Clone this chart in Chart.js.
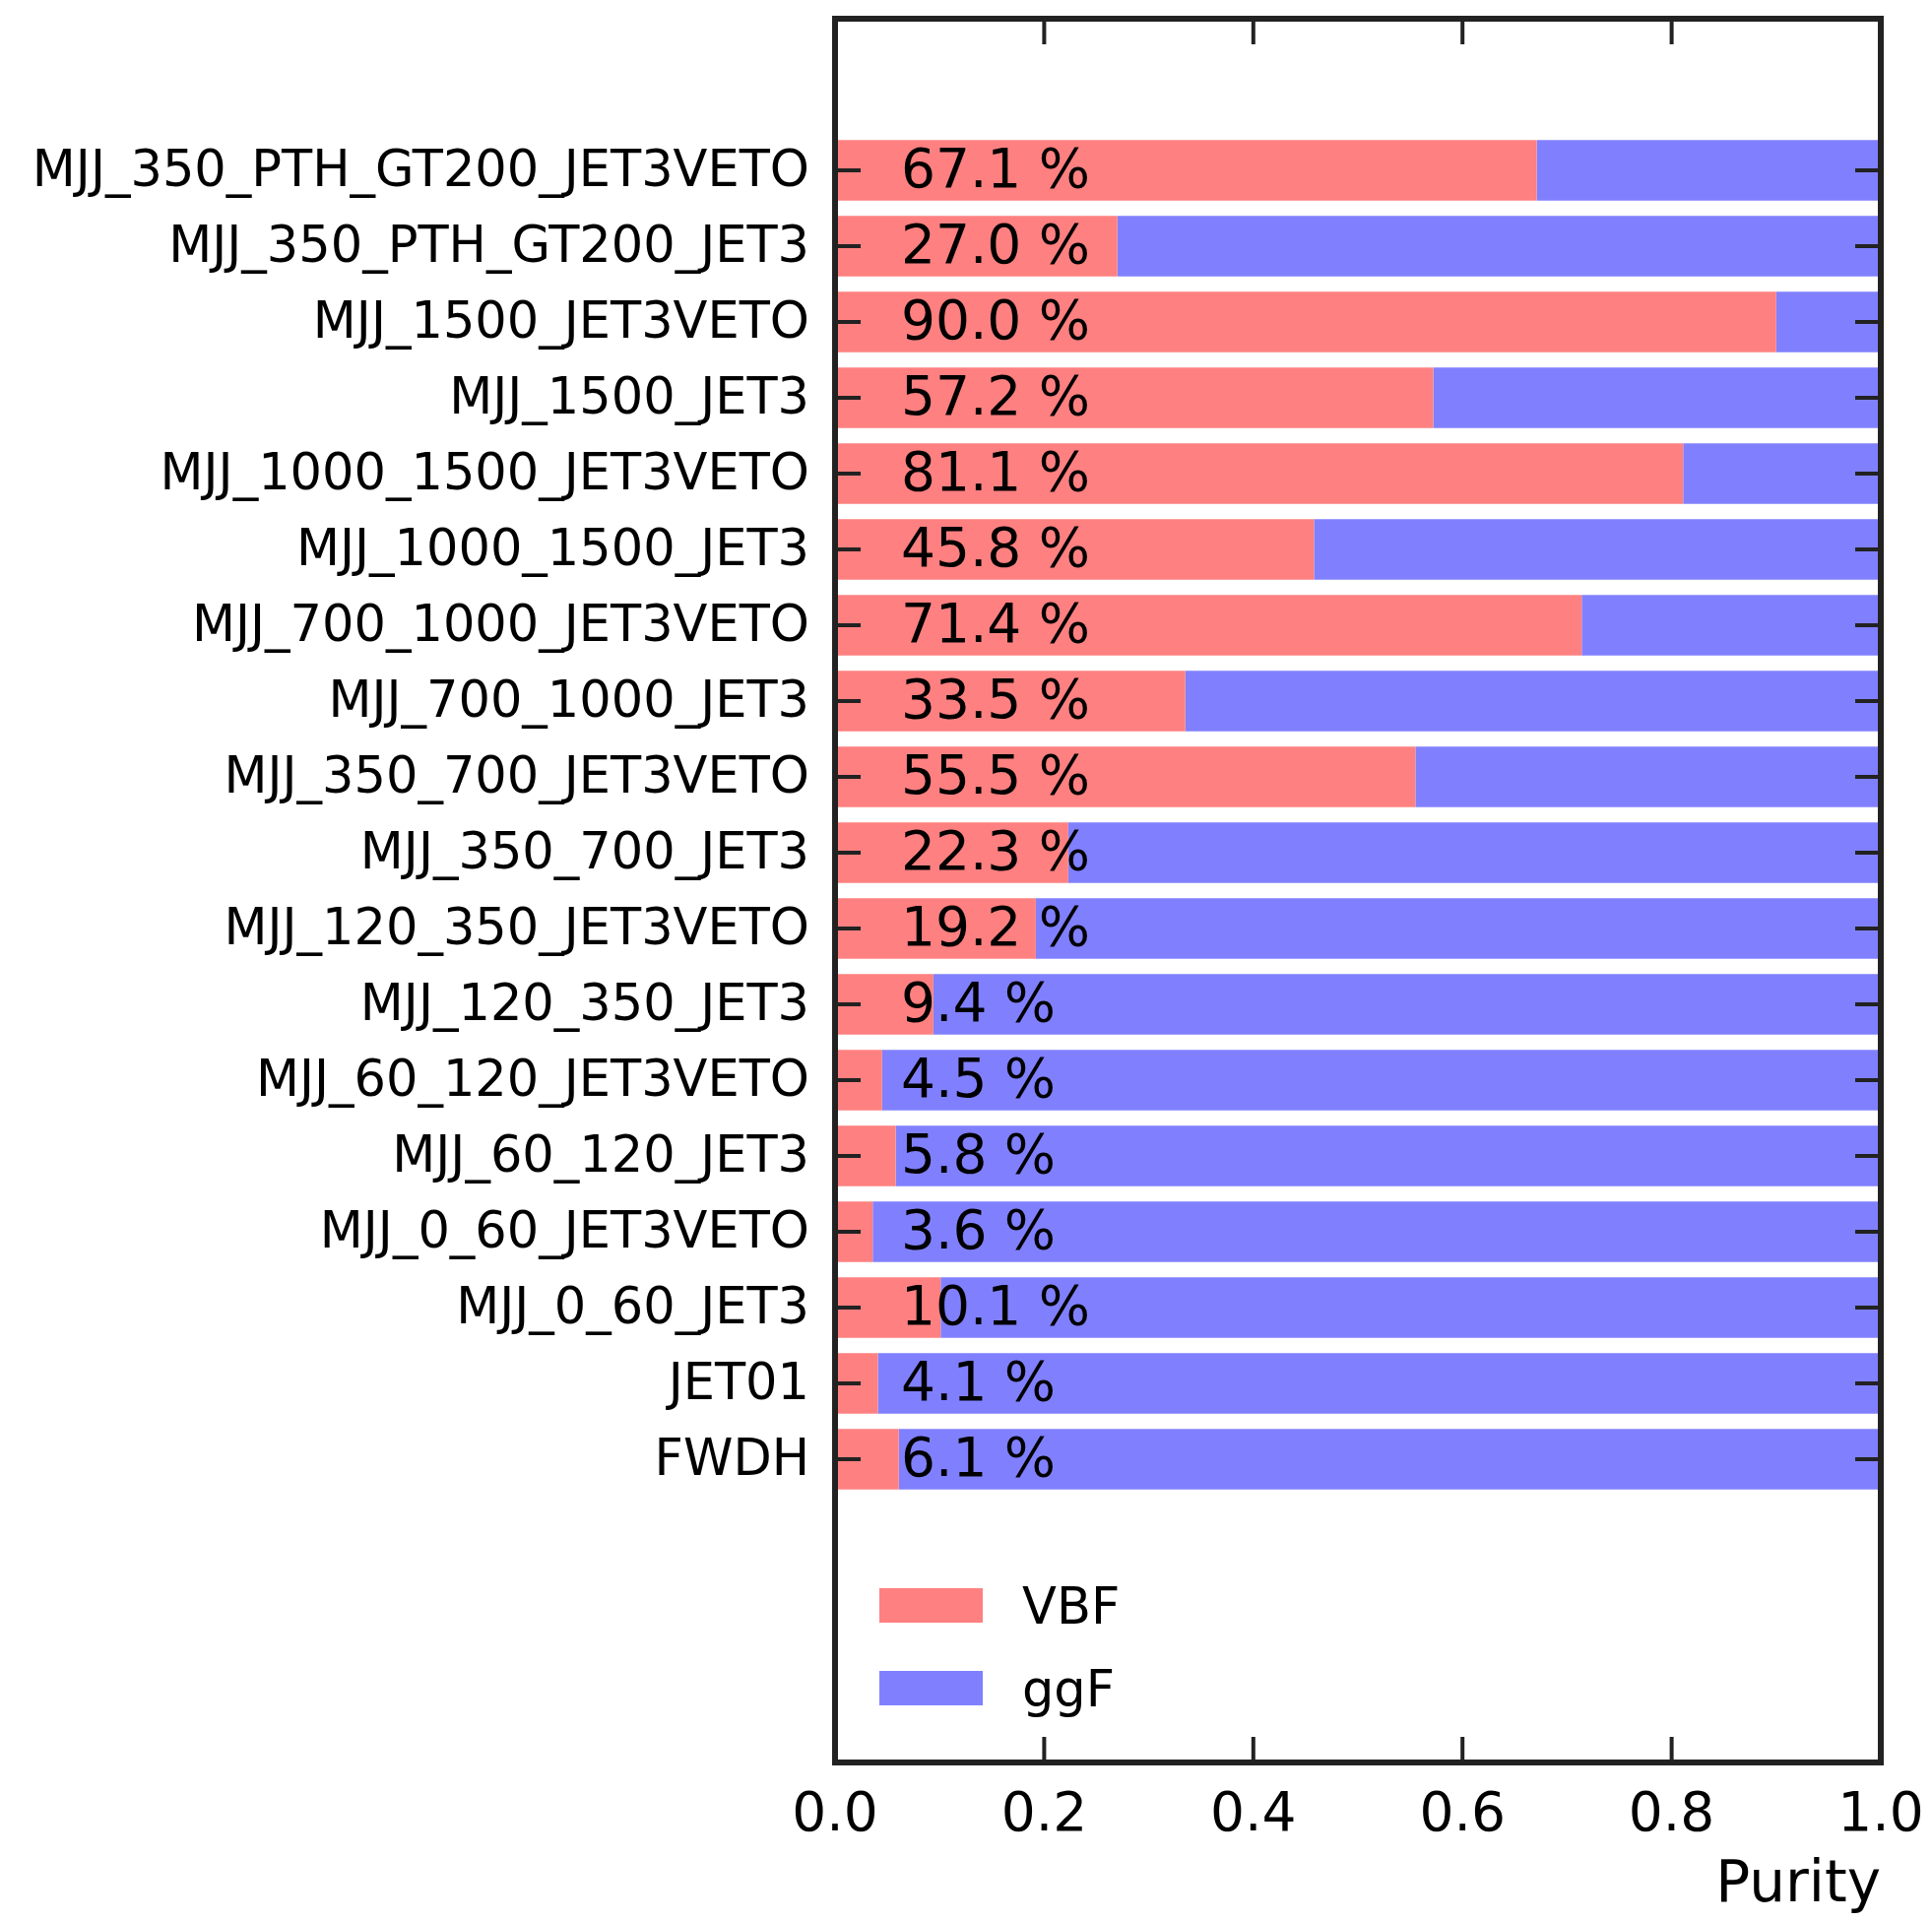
<!DOCTYPE html>
<html>
<head>
<meta charset="utf-8">
<script src="https://cdn.jsdelivr.net/npm/chart.js@4.4.0/dist/chart.umd.min.js"></script>
<style>
  html, body { margin: 0; padding: 0; background: #fff; }
  canvas { display: block; }
</style>
</head>
<body>
<canvas id="purityChart" width="1962" height="1951"></canvas>
<script>
// categories, top to bottom as in the plot
const categories = [
    'MJJ_350_PTH_GT200_JET3VETO',
    'MJJ_350_PTH_GT200_JET3',
    'MJJ_1500_JET3VETO',
    'MJJ_1500_JET3',
    'MJJ_1000_1500_JET3VETO',
    'MJJ_1000_1500_JET3',
    'MJJ_700_1000_JET3VETO',
    'MJJ_700_1000_JET3',
    'MJJ_350_700_JET3VETO',
    'MJJ_350_700_JET3',
    'MJJ_120_350_JET3VETO',
    'MJJ_120_350_JET3',
    'MJJ_60_120_JET3VETO',
    'MJJ_60_120_JET3',
    'MJJ_0_60_JET3VETO',
    'MJJ_0_60_JET3',
    'JET01',
    'FWDH'
];

const vbfPurity = [0.671, 0.270, 0.900, 0.572, 0.811, 0.458, 0.714, 0.335, 0.555,
                   0.223, 0.192, 0.094, 0.045, 0.058, 0.036, 0.101, 0.041, 0.061];
const ggfPurity = [0.329, 0.730, 0.100, 0.428, 0.189, 0.542, 0.286, 0.665, 0.445,
                   0.777, 0.808, 0.906, 0.955, 0.942, 0.964, 0.899, 0.959, 0.939];

const seriesNames = ['VBF', 'ggF'];
const seriesColors = ['#ff8080', '#8080ff'];

const FONT = 'DejaVu Sans';
const INK = '#222';

// percentage text on each bar
const percentLabels = {
    id: 'percentLabels',
    afterDatasetsDraw(chart) {
        const { ctx, scales: { x, y } } = chart;
        ctx.save();
        ctx.font = '55px "' + FONT + '"';
        ctx.fillStyle = '#000';
        ctx.textAlign = 'left';
        ctx.textBaseline = 'alphabetic';
        vbfPurity.forEach((v, i) => {
            const px = x.getPixelForValue(0.063);
            const py = y.getPixelForValue(i) + 17;
            ctx.fillText((v * 100).toFixed(1) + ' %', px, py);
        });
        ctx.restore();
    }
};

// matplotlib style frame with inward ticks on all sides
const frameTicks = {
    id: 'frameTicks',
    afterDraw(chart) {
        const { ctx, chartArea: a, scales: { x, y } } = chart;
        const len = 26;
        ctx.save();
        ctx.strokeStyle = INK;
        ctx.lineWidth = 4;
        ctx.beginPath();
        x.ticks.forEach(t => {
            const px = x.getPixelForValue(t.value);
            ctx.moveTo(px, a.bottom); ctx.lineTo(px, a.bottom - len);
            ctx.moveTo(px, a.top); ctx.lineTo(px, a.top + len);
        });
        y.ticks.forEach(t => {
            const py = y.getPixelForValue(t.value);
            ctx.moveTo(a.left, py); ctx.lineTo(a.left + len, py);
            ctx.moveTo(a.right, py); ctx.lineTo(a.right - len, py);
        });
        ctx.stroke();
        ctx.lineWidth = 6;
        ctx.strokeRect(a.left, a.top, a.right - a.left, a.bottom - a.top);
        ctx.restore();
    }
};

// legend inside the axes, lower left
const innerLegend = {
    id: 'innerLegend',
    afterDraw(chart) {
        const { ctx, chartArea: a } = chart;
        ctx.save();
        ctx.font = '51px "' + FONT + '"';
        ctx.textBaseline = 'alphabetic';
        chart.data.datasets.forEach((ds, k) => {
            const top = a.bottom - 177 + k * 84;
            ctx.fillStyle = ds.backgroundColor;
            ctx.fillRect(a.left + 45, top, 105, 35);
            ctx.fillStyle = '#000';
            ctx.fillText(ds.label, a.left + 190, top + 36);
        });
        ctx.restore();
    }
};

new Chart(document.getElementById('purityChart'), {
    type: 'bar',
    data: {
        datasets: [
            {
                label: seriesNames[0],
                data: vbfPurity.map((v, i) => ({ x: v, y: i })),
                backgroundColor: seriesColors[0],
                stack: 'purity'
            },
            {
                label: seriesNames[1],
                data: ggfPurity.map((v, i) => ({ x: v, y: i })),
                backgroundColor: seriesColors[1],
                stack: 'purity'
            }
        ]
    },
    options: {
        indexAxis: 'y',
        responsive: false,
        devicePixelRatio: 1,
        animation: false,
        barPercentage: 0.8,
        categoryPercentage: 1.0,
        layout: { padding: { left: 0, right: 52, top: 19, bottom: 0 } },
        plugins: {
            legend: { display: false },
            tooltip: { enabled: false }
        },
        scales: {
            x: {
                type: 'linear',
                stacked: true,
                min: 0,
                max: 1,
                grid: { display: false, drawTicks: false },
                border: { display: false },
                ticks: {
                    stepSize: 0.2,
                    padding: 22,
                    color: '#000',
                    font: { family: FONT, size: 55 },
                    maxRotation: 0,
                    callback: v => v.toFixed(1)
                },
                title: {
                    display: true,
                    text: 'Purity',
                    align: 'end',
                    color: '#000',
                    font: { family: FONT, size: 58 },
                    padding: { top: 0, bottom: 0 }
                },
                afterFit: s => {
                    s.height = 161;
                    s.paddingLeft = 0;
                    s.paddingRight = 0;
                }
            },
            y: {
                type: 'linear',
                reverse: true,
                offset: false,
                min: -2,
                max: 21,
                grid: { display: false, drawTicks: false, offset: false },
                border: { display: false },
                afterBuildTicks: s => { s.ticks = categories.map((c, i) => ({ value: i })); },
                ticks: {
                    padding: 26,
                    labelOffset: 3,
                    color: '#000',
                    font: { family: FONT, size: 51 },
                    autoSkip: false,
                    callback: v => categories[v]
                },
                afterFit: s => {
                    s.width = 848;
                    s.paddingTop = 0;
                    s.paddingBottom = 0;
                }
            }
        }
    },
    plugins: [percentLabels, frameTicks, innerLegend]
});
</script>
</body>
</html>
